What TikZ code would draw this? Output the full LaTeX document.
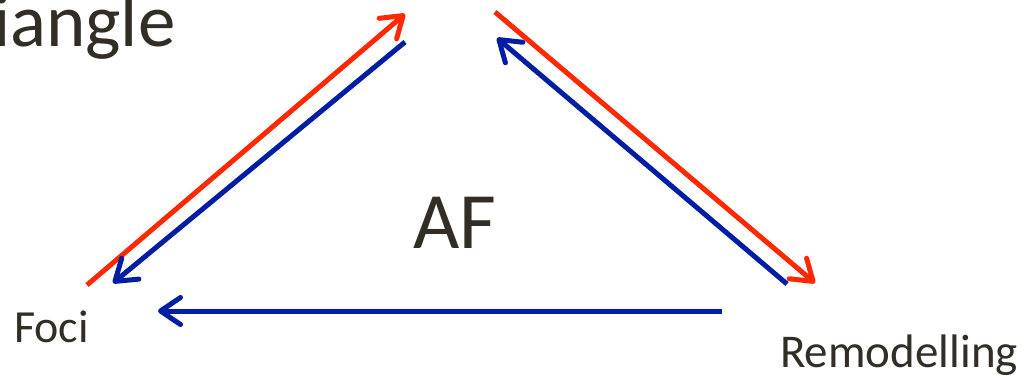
\documentclass[tikz,border=0pt]{standalone}
\usepackage{fontspec}
\setmainfont{Carlito}
\usetikzlibrary{arrows.meta}
\definecolor{arrred}{RGB}{255,40,0}
\definecolor{arrblue}{RGB}{0,30,165}
\definecolor{txt}{RGB}{50,46,38}
\tikzset{
  conn/.style={line width=5pt, -{Straight Barb[round,length=20pt,width=27pt]}},
  redarr/.style={conn, draw=arrred},
  bluearr/.style={conn, draw=arrblue},
  lbl/.style={inner sep=0pt, anchor=base west, text=txt},
}
\begin{document}
\begin{tikzpicture}[x=1pt,y=-1pt]
\useasboundingbox (0,0) rectangle (1029,383);
\node[lbl, font=\fontsize{75}{75}\selectfont] (title) at (-7,46) {iangle};
\node[lbl, font=\fontsize{80}{80}\selectfont] (af) at (413,248) {AF};
\node[lbl, font=\fontsize{46}{46}\selectfont] (foci) at (14,342) {Foci};
\node[lbl, font=\fontsize{47}{47}\selectfont] (remod) at (780,367) {Remodelling};
\coordinate (r1s) at (87,285);
\coordinate (r1e) at (405,14);
\coordinate (b1s) at (405,42);
\coordinate (b1e) at (113,283);
\coordinate (r2s) at (495,12);
\coordinate (r2e) at (815,283);
\coordinate (b2s) at (787,284);
\coordinate (b2e) at (497,38);
\coordinate (b3s) at (722,311);
\coordinate (b3e) at (158,311);
\draw[redarr] (r1s) -- (r1e);
\draw[bluearr] (b1s) -- (b1e);
\draw[redarr] (r2s) -- (r2e);
\draw[bluearr] (b2s) -- (b2e);
\draw[bluearr] (b3s) -- (b3e);
\end{tikzpicture}
\end{document}
